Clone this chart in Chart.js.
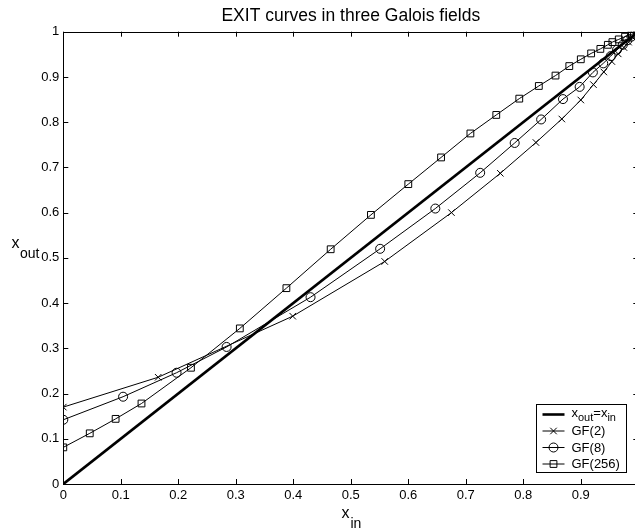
<!DOCTYPE html>
<html><head><meta charset="utf-8">
<script src="https://cdn.jsdelivr.net/npm/chart.js@4/dist/chart.umd.min.js"></script>
<style>html,body{margin:0;padding:0;overflow:hidden;background:#fff;width:635px;height:531px}canvas{display:block}</style>
</head><body>
<canvas id="c" width="645" height="531"></canvas>
<script>
const FONT = '"Liberation Sans", Arial, Helvetica, sans-serif';
const titleText = 'EXIT curves in three Galois fields';

// x_out = x_in reference line
const idX = [0, 1];
const idY = [0, 1];

// GF(2)
const gf2X = [0, 0.165, 0.399, 0.559, 0.675, 0.760, 0.822, 0.867, 0.900, 0.922, 0.940, 0.954, 0.965, 0.975, 0.983, 0.990, 0.996, 1];
const gf2Y = [0.170, 0.236, 0.371, 0.492, 0.600, 0.687, 0.755, 0.807, 0.849, 0.883, 0.911, 0.934, 0.951, 0.965, 0.977, 0.987, 0.995, 1];

// GF(8)
const gf8X = [0, 0.104, 0.197, 0.284, 0.430, 0.551, 0.647, 0.725, 0.785, 0.831, 0.869, 0.898, 0.921, 0.939, 0.952, 0.963, 0.973, 0.981, 0.988, 0.994, 1];
const gf8Y = [0.142, 0.193, 0.246, 0.303, 0.413, 0.520, 0.609, 0.688, 0.754, 0.806, 0.851, 0.878, 0.910, 0.930, 0.946, 0.960, 0.971, 0.981, 0.989, 0.995, 1];

// GF(256)
const gf256X = [0, 0.046, 0.091, 0.136, 0.222, 0.307, 0.388, 0.465, 0.535, 0.600, 0.657, 0.708, 0.753, 0.793, 0.827, 0.856, 0.880, 0.900, 0.918, 0.934, 0.947, 0.955, 0.966, 0.977, 0.988, 1];
const gf256Y = [0.081, 0.112, 0.144, 0.178, 0.257, 0.344, 0.433, 0.519, 0.595, 0.663, 0.722, 0.775, 0.816, 0.852, 0.880, 0.903, 0.924, 0.939, 0.952, 0.962, 0.971, 0.977, 0.983, 0.989, 0.994, 1];

const xTickLabels = ['0','0.1','0.2','0.3','0.4','0.5','0.6','0.7','0.8','0.9'];
const yTickLabels = ['0','0.1','0.2','0.3','0.4','0.5','0.6','0.7','0.8','0.9','1'];

const pts = (xs, ys) => xs.map((x, i) => ({x: x, y: ys[i]}));

function mk(label, xs, ys, style, r) {
  return {
    label: label, data: pts(xs, ys), showLine: true,
    borderColor: '#000', borderWidth: 1, backgroundColor: 'rgba(0,0,0,0)',
    pointStyle: style, pointRadius: r, pointBorderColor: '#000', pointBorderWidth: 1,
    pointBackgroundColor: 'rgba(0,0,0,0)', pointHoverRadius: r, tension: 0
  };
}

function drawMarker(ctx, style, x, y, r) {
  ctx.beginPath();
  if (style === 'circle') { ctx.arc(x, y, r, 0, Math.PI * 2); }
  else if (style === 'rect') { const s = Math.SQRT1_2 * r; ctx.rect(x - s, y - s, 2 * s, 2 * s); }
  else if (style === 'crossRot') { const s = Math.SQRT1_2 * r; ctx.moveTo(x - s, y - s); ctx.lineTo(x + s, y + s); ctx.moveTo(x - s, y + s); ctx.lineTo(x + s, y - s); }
  ctx.stroke();
}

const frame = {
  id: 'frame',
  afterDraw(chart) {
    const ctx = chart.ctx, a = chart.chartArea;
    const xs = chart.scales.x, ys = chart.scales.y;
    ctx.save();
    ctx.strokeStyle = '#000'; ctx.lineWidth = 1;
    // box
    ctx.strokeRect(Math.round(a.left) + 0.5, Math.round(a.top) + 0.5, Math.round(a.right - a.left), Math.round(a.bottom - a.top));
    // inward ticks
    const L = 5;
    ctx.beginPath();
    xs.ticks.forEach(t => {
      const px = Math.round(xs.getPixelForValue(t.value)) + 0.5;
      ctx.moveTo(px, a.bottom); ctx.lineTo(px, a.bottom - L);
      ctx.moveTo(px, a.top); ctx.lineTo(px, a.top + L);
    });
    ys.ticks.forEach(t => {
      const py = Math.round(ys.getPixelForValue(t.value)) + 0.5;
      ctx.moveTo(a.left, py); ctx.lineTo(a.left + L, py);
      ctx.moveTo(a.right, py); ctx.lineTo(a.right - L, py);
    });
    ctx.stroke();

    // title
    ctx.fillStyle = '#000';
    ctx.textBaseline = 'alphabetic';
    ctx.textAlign = 'center';
    ctx.font = '17.5px ' + FONT;
    ctx.fillText(titleText, (a.left + a.right) / 2, 20.5);

    // axis labels
    ctx.textAlign = 'left';
    ctx.font = '16px ' + FONT;
    ctx.fillText('x', 11.5, 248.3);
    ctx.font = '14px ' + FONT;
    ctx.fillText('out', 20, 258.3);
    ctx.font = '16px ' + FONT;
    ctx.fillText('x', 341.5, 518.3);
    ctx.font = '14px ' + FONT;
    ctx.fillText('in', 350.5, 528);

    // legend
    const bx = 536.5, by = 404.5, bw = 90, bh = 68;
    ctx.fillStyle = '#fff';
    ctx.fillRect(bx, by, bw, bh);
    ctx.strokeRect(bx, by, bw, bh);
    ctx.fillStyle = '#000';
    const rows = [414.5, 431, 447.5, 464];
    const lx0 = 542.5, lx1 = 564.5, tx = 571.5;
    // row 1
    ctx.lineWidth = 2.6;
    ctx.beginPath(); ctx.moveTo(lx0, rows[0]); ctx.lineTo(lx1, rows[0]); ctx.stroke();
    ctx.lineWidth = 1;
    let cx = tx;
    ctx.textBaseline = 'alphabetic';
    ctx.font = '13px ' + FONT; ctx.fillText('x', cx, rows[0] + 2); cx += ctx.measureText('x').width;
    ctx.font = '11px ' + FONT; ctx.fillText('out', cx, rows[0] + 6); cx += ctx.measureText('out').width;
    ctx.font = '13px ' + FONT; ctx.fillText('=x', cx, rows[0] + 2); cx += ctx.measureText('=x').width;
    ctx.font = '11px ' + FONT; ctx.fillText('in', cx, rows[0] + 6);
    const ents = [['GF(2)', 'crossRot', 4.6], ['GF(8)', 'circle', 4.5], ['GF(256)', 'rect', 4.8]];
    ents.forEach((e, i) => {
      const y = rows[i + 1];
      ctx.beginPath(); ctx.moveTo(lx0, y); ctx.lineTo(lx1, y); ctx.stroke();
      drawMarker(ctx, e[1], (lx0 + lx1) / 2, y, e[2]);
      ctx.font = '13px ' + FONT; ctx.textBaseline = 'middle';
      ctx.fillText(e[0], tx, y + 0.5);
    });
    ctx.restore();
  }
};

new Chart(document.getElementById('c'), {
  type: 'scatter',
  data: {
    datasets: [
      Object.assign(mk('x_out=x_in', idX, idY, 'circle', 0), {borderWidth: 2.7}),
      mk('GF(2)', gf2X, gf2Y, 'crossRot', 4.6),
      mk('GF(8)', gf8X, gf8Y, 'circle', 4.5),
      mk('GF(256)', gf256X, gf256Y, 'rect', 4.8)
    ]
  },
  options: {
    responsive: false, animation: false, devicePixelRatio: 1,
    layout: { padding: { top: 31.7, right: 6.7, left: 0, bottom: 0 } },
    plugins: { legend: { display: false }, title: { display: false }, tooltip: { enabled: false } },
    scales: {
      x: {
        type: 'linear', min: 0, max: 1,
        afterFit: s => { s.height = 47; },
        grid: { display: false, drawTicks: false },
        border: { display: false },
        afterBuildTicks: s => { s.ticks = xTickLabels.map(l => ({ value: parseFloat(l) })); },
        ticks: { padding: 4, color: '#000', font: { family: FONT, size: 13 }, maxRotation: 0,
                 callback: (v) => { const i = xTickLabels.findIndex(l => Math.abs(parseFloat(l) - v) < 1e-9); return i >= 0 ? xTickLabels[i] : ''; } }
      },
      y: {
        type: 'linear', min: 0, max: 1,
        afterFit: s => { s.width = 63.3; },
        grid: { display: false, drawTicks: false },
        border: { display: false },
        afterBuildTicks: s => { s.ticks = yTickLabels.map(l => ({ value: parseFloat(l) })); },
        ticks: { padding: 4, color: '#000', font: { family: FONT, size: 13 },
                 callback: (v) => { const i = yTickLabels.findIndex(l => Math.abs(parseFloat(l) - v) < 1e-9); return i >= 0 ? yTickLabels[i] : ''; } }
      }
    }
  },
  plugins: [frame]
});
</script>
</body></html>
